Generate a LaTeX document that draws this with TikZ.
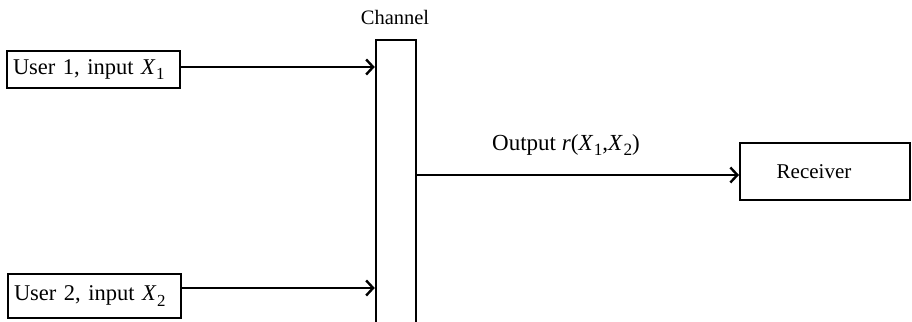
\documentclass[tikz,border=0pt]{standalone}
\usepackage{fontspec}
\setmainfont{Liberation Serif}
\usetikzlibrary{arrows.meta}
\newcommand{\vX}[1]{\textit{X}\kern0.5pt\raisebox{-0.25em}{\scalebox{0.75}{#1}}}
\begin{document}
\begin{tikzpicture}[x=1pt,y=-1pt,
  box/.style={draw,line width=2pt,inner sep=0pt},
  ubox/.style={box,minimum width=173pt,inner xsep=6pt,text width=161pt,align=left,font=\fontsize{22.5}{26}\selectfont},
  lbl/.style={inner sep=0pt},
  arr/.style={line width=2.4pt,-{Straight Barb[length=7pt,width=15pt,line width=2.4pt]}}]
\useasboundingbox (0,0) rectangle (912,321);
\node[ubox,minimum height=37pt] (u1) at (93.5,69.5) {User 1, input \vX{1}};
\node[ubox,minimum height=44pt] (u2) at (94.5,296) {User 2, input \vX{2}};
\node[draw,line width=2.4pt,minimum width=40pt,minimum height=300pt,inner sep=0pt] (ch) at (396,190) {};
\node[lbl,font=\fontsize{20.5}{24}\selectfont] (chl) at (395,17) {Channel};
\node[box,minimum width=170pt,minimum height=57pt,font=\fontsize{21}{24}\selectfont] (rc) at (825,171.5) {Receiver\hspace*{22pt}};
\coordinate (a1) at (181,67);
\coordinate (a2) at (182,288);
\coordinate (a3) at (417,175);
\draw[arr] (a1) -- (ch.west |- a1);
\draw[arr] (a2) -- (ch.west |- a2);
\draw[arr] (a3) -- (rc.west |- a3);
\node[lbl,font=\fontsize{23}{26}\selectfont] (out) at (566,145) {Output \textit{r}(\vX{1},\vX{2})};
\end{tikzpicture}
\end{document}
